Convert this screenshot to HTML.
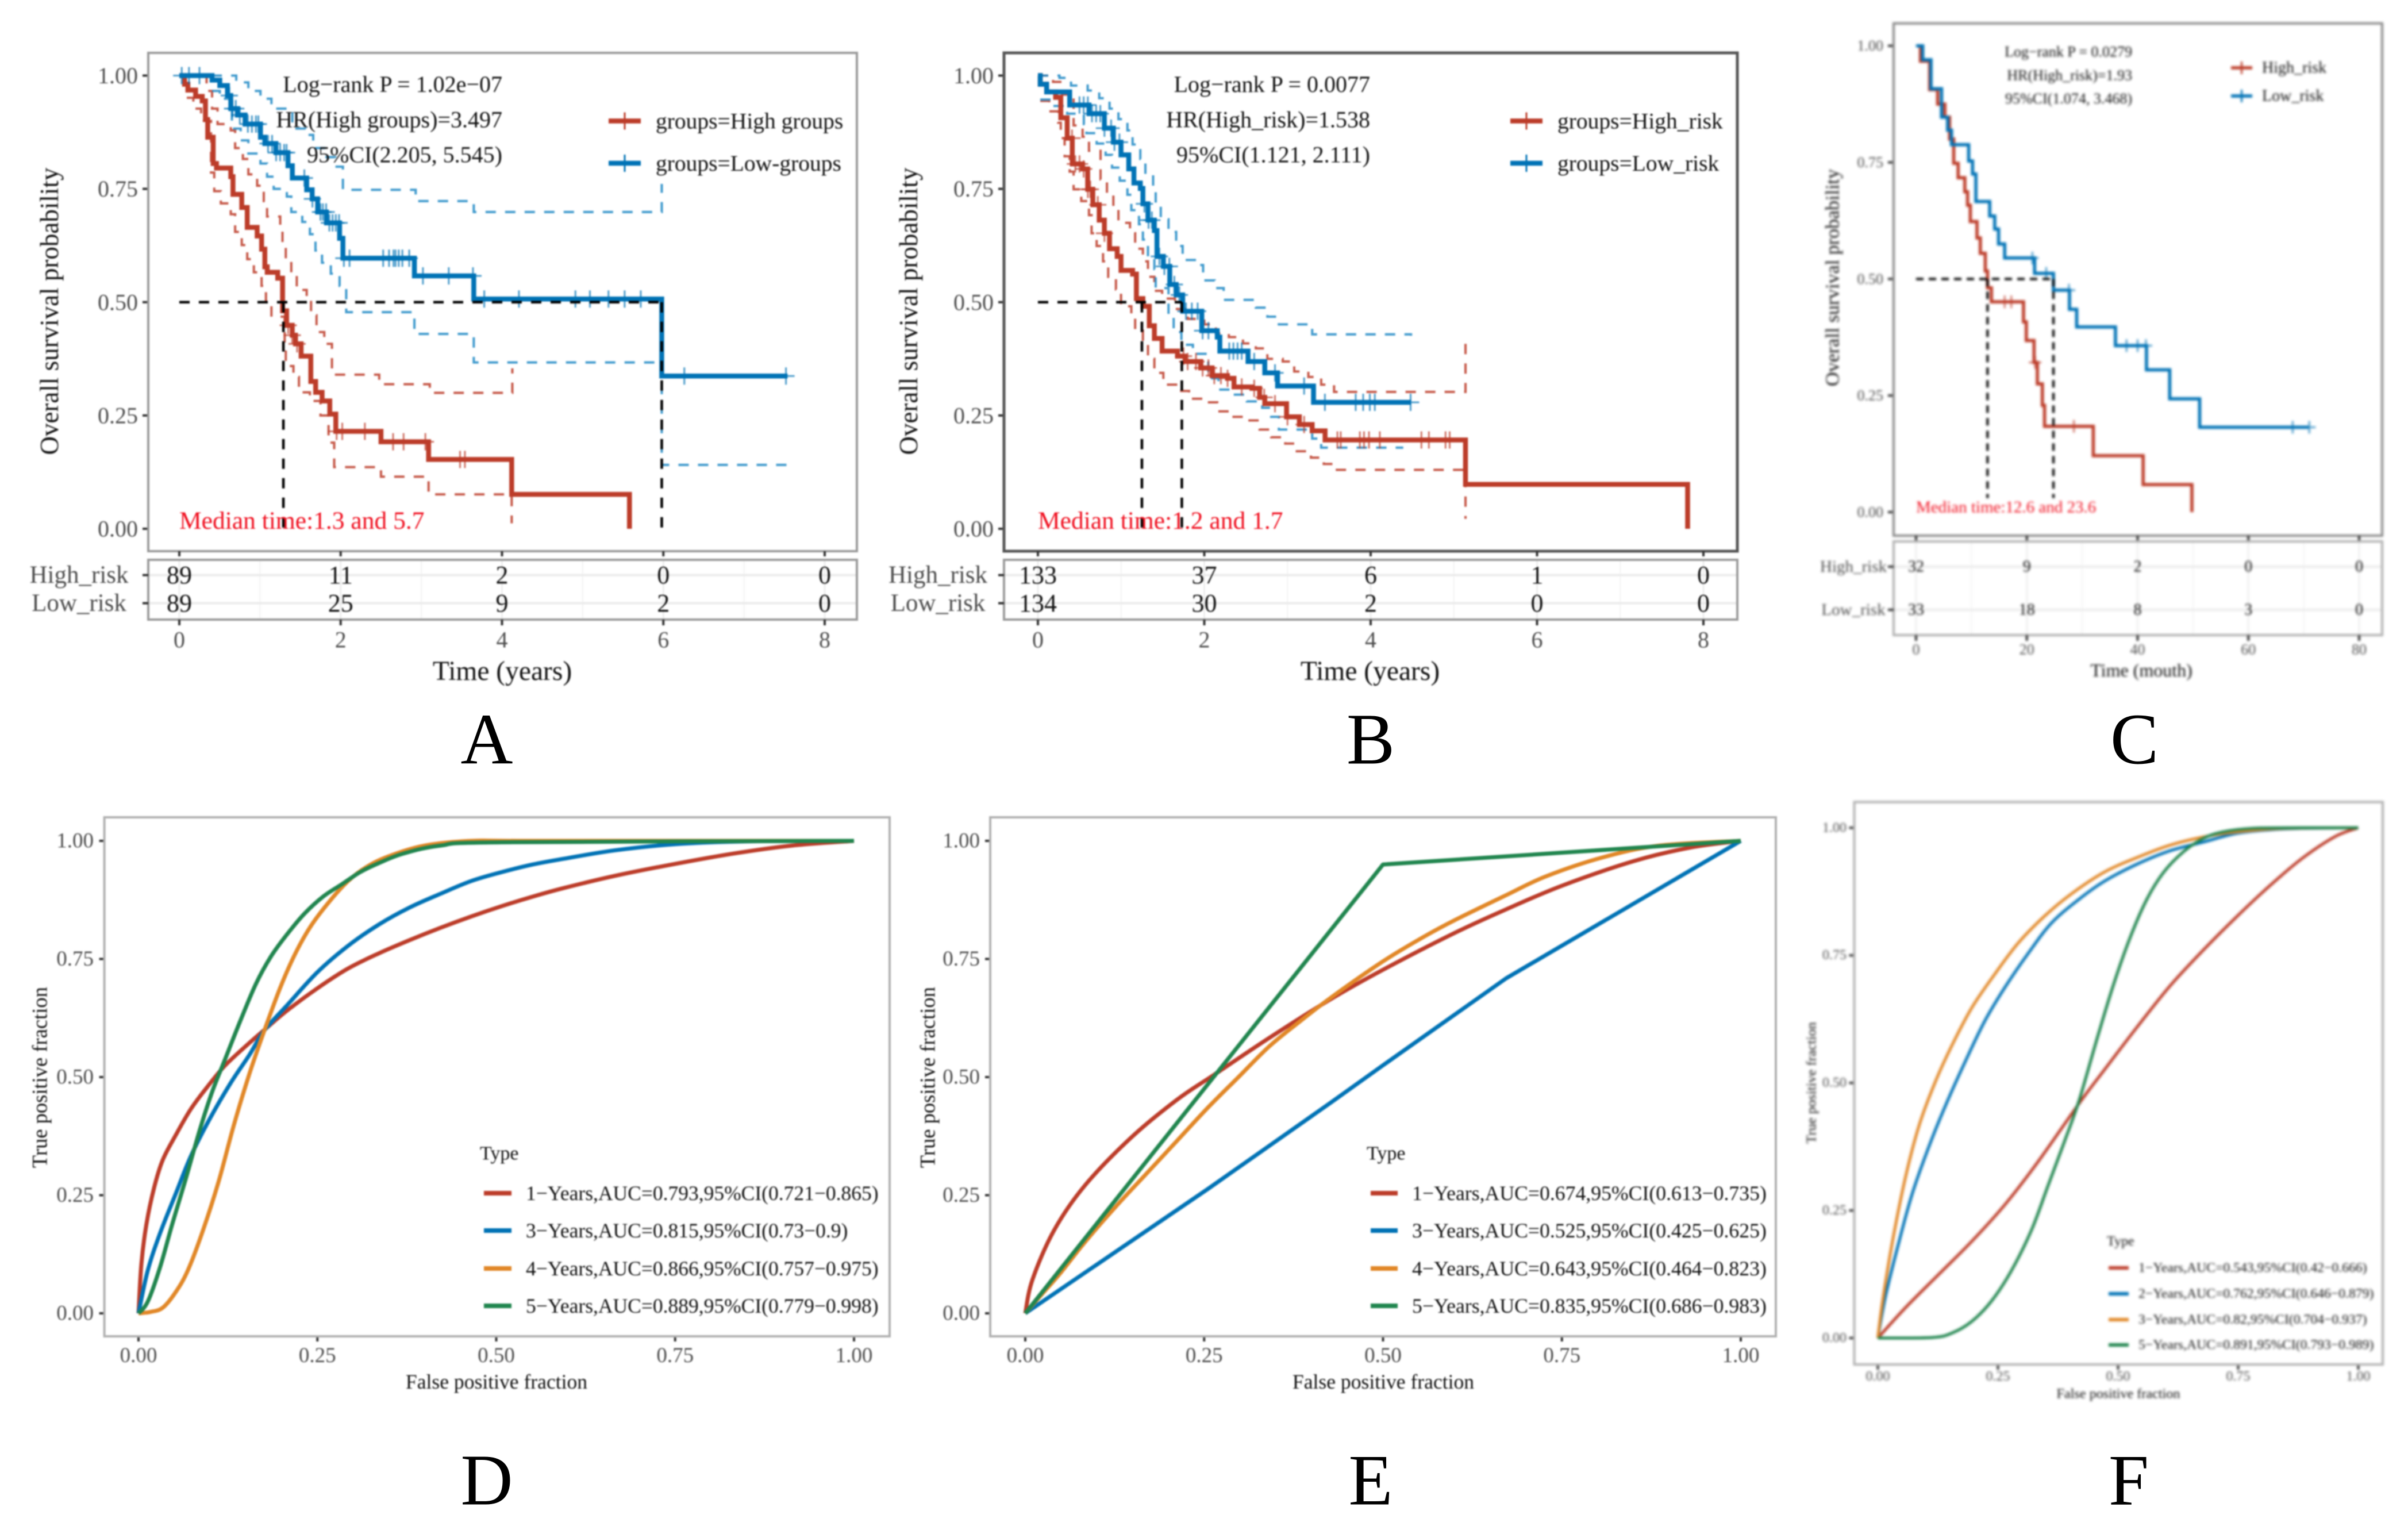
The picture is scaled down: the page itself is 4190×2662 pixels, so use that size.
<!DOCTYPE html>
<html lang="en">
<head>
<meta charset="utf-8">
<title>Survival and ROC analysis panels</title>
<style>
html,body{margin:0;padding:0;background:#fff;}
svg{display:block;font-family:"Liberation Serif",serif;}
text{dominant-baseline:central;}
</style>
</head>
<body>
<svg id="figure" xmlns="http://www.w3.org/2000/svg" width="4190" height="2662" viewBox="0 0 4190 2662"></svg>
<script>
/* ---------- shared tick labels ---------- */
const survivalTicks = [0, 0.25, 0.5, 0.75, 1];
const survivalTickLabels = ["0.00", "0.25", "0.50", "0.75", "1.00"];
const rocTicks = [0, 0.25, 0.5, 0.75, 1];
const rocTickLabels = ["0.00", "0.25", "0.50", "0.75", "1.00"];
const yearTicks = [0, 2, 4, 6, 8];
const monthTicks = [0, 20, 40, 60, 80];

/* ---------- panel A ---------- */
const aHighTime = [0,.065,.106,.202,.284,.324,.352,.42,.461,.638,.665,.774,.842,.965,1.02,1.06,1.09,1.22,1.28,1.33,1.40,1.44,1.51,1.63,1.69,1.77,1.865,1.94,2.50,3.09,4.12,5.58];
const aHighSurv = [1,.981,.968,.954,.944,.903,.864,.806,.796,.777,.738,.709,.665,.646,.617,.578,.566,.553,.481,.449,.427,.408,.381,.325,.301,.282,.253,.215,.192,.153,.076,0];
const aHighUpperTime = [.065,.338,.406,.474,.638,.692,.788,.856,.965,1.047,1.088,1.251,1.279,1.32,1.388,1.456,1.579,1.633,1.701,1.797,1.892,2.478,3.105,4.128];
const aHighUpperSurv = [1,.966,.927,.893,.879,.84,.816,.782,.757,.723,.689,.67,.631,.592,.558,.527,.505,.471,.434,.408,.34,.319,.3,.354];
const aHighLowerTime = [.093,.174,.27,.393,.433,.515,.638,.692,.774,.842,.924,1.02,1.074,1.142,1.306,1.32,1.415,1.483,1.619,1.75,1.85,1.92,2.5,3.09,4.12];
const aHighLowerSurv = [.951,.927,.9,.786,.745,.718,.694,.655,.626,.595,.566,.536,.498,.468,.408,.359,.335,.301,.282,.25,.19,.136,.115,.076,.012];
const aLowTime = [0,.406,.502,.597,.638,.72,.815,1.006,1.06,1.197,1.347,1.401,1.579,1.647,1.715,1.824,1.987,2.028,2.914,3.65,5.98,7.54];
const aLowSurv = [1,.99,.978,.956,.927,.913,.893,.864,.850,.830,.801,.774,.748,.728,.699,.675,.641,.597,.558,.507,.337,.337];
const aLowUpperTime = [.40,.706,.856,1.006,1.142,1.401,1.565,1.66,1.797,1.933,2.028,2.93,3.65,5.98];
const aLowUpperSurv = [1,.985,.966,.949,.927,.883,.869,.84,.82,.799,.748,.723,.699,.761];
const aLowLowerTime = [.406,.502,.652,.761,.856,1.006,1.088,1.17,1.333,1.388,1.524,1.619,1.688,1.769,1.878,1.987,2.069,2.914,3.65,5.98,7.54];
const aLowLowerSurv = [.966,.949,.883,.857,.828,.806,.777,.75,.733,.699,.677,.65,.614,.587,.563,.536,.478,.43,.367,.141,.141];
const aHighCensor = [1.35,1.40,1.46,1.95,2.02,2.3,2.65,2.78,3.05,3.48,3.54];
const aLowCensor = [.03,.12,.25,.62,.66,.7,.75,.85,.9,.95,.98,1.1,1.15,1.2,1.25,1.3,1.33,1.55,1.65,1.75,1.78,1.82,1.86,1.9,1.94,1.98,2.04,2.11,2.527,2.6,2.655,2.68,2.72,2.765,2.85,3.02,3.34,3.64,3.78,4.21,4.91,5.09,5.32,5.52,5.72,6.26,7.52];
const aRiskHigh = ["89","11","2","0","0"];
const aRiskLow = ["89","25","9","2","0"];
const aMedians = [1.29, 5.98];

/* ---------- panel B ---------- */
const bHighTime = [0,.028,.105,.213,.275,.352,.413,.537,.598,.66,.737,.799,.861,.953,.999,1.138,1.184,1.262,1.339,1.40,1.493,1.678,1.77,1.956,2.094,2.279,2.357,2.573,2.665,2.727,2.943,2.989,3.143,3.297,3.452,5.14,7.81];
const bHighSurv = [1,.981,.964,.952,.907,.862,.805,.794,.749,.715,.681,.652,.618,.601,.57,.562,.508,.491,.448,.42,.392,.381,.369,.355,.338,.332,.313,.31,.29,.276,.276,.247,.23,.216,.196,.098,0];
const bHighUpperTime = [0,.182,.29,.429,.537,.614,.753,.83,.907,.968,1.107,1.169,1.262,1.323,1.40,1.493,1.647,1.801,2.0,2.14,2.295,2.465,2.619,2.758,2.943,3.081,3.251,3.405,3.56,5.14];
const bHighUpperSurv = [1,.986,.958,.89,.865,.834,.771,.737,.706,.675,.652,.618,.59,.556,.525,.508,.485,.463,.451,.431,.423,.409,.398,.375,.369,.347,.335,.318,.302,.418];
const bHighLowerTime = [.028,.136,.244,.275,.321,.382,.429,.521,.614,.645,.706,.783,.845,.938,.999,1.123,1.169,1.262,1.323,1.40,1.508,1.678,1.817,2.017,2.156,2.326,2.511,2.665,2.804,2.973,3.112,3.282,3.436,3.56,5.14];
const bHighLowerSurv = [.944,.921,.896,.862,.822,.788,.749,.723,.692,.652,.624,.59,.556,.528,.491,.471,.437,.406,.375,.344,.318,.304,.287,.279,.259,.247,.239,.219,.202,.188,.171,.157,.143,.13,.022];
const bLowTime = [0,.028,.105,.382,.614,.799,.907,.999,1.092,1.154,1.231,1.262,1.323,1.40,1.431,1.508,1.585,1.662,1.74,1.97,2.156,2.187,2.526,2.727,2.881,3.313,4.485];
const bLowSurv = [1,.981,.964,.935,.916,.884,.853,.825,.794,.763,.751,.717,.681,.658,.601,.579,.539,.516,.48,.437,.423,.392,.369,.344,.315,.279,.279];
const bLowUpperTime = [0,.259,.398,.598,.737,.861,.968,1.076,1.138,1.231,1.292,1.385,1.416,1.477,1.57,1.662,1.74,1.909,1.986,2.125,2.233,2.619,2.758,2.896,3.297,4.485];
const bLowUpperSurv = [1,.995,.978,.967,.95,.927,.904,.879,.848,.816,.783,.754,.715,.683,.655,.624,.593,.582,.548,.531,.505,.488,.468,.451,.429,.426];
const bLowLowerTime = [.028,.167,.352,.552,.583,.706,.814,.891,.984,1.076,1.123,1.215,1.262,1.323,1.40,1.416,1.57,1.632,1.725,1.863,2.048,2.171,2.341,2.511,2.696,2.804,2.896,3.297,3.405,4.392];
const bLowLowerSurv = [.947,.933,.916,.893,.873,.85,.825,.797,.768,.737,.703,.672,.638,.601,.573,.531,.468,.434,.406,.386,.332,.307,.296,.281,.267,.247,.219,.199,.179,.179];
const bHighCensor = [.41,.45,.5,.55,.6,.63,.72,.8,1.75,1.8,1.9,1.98,2.05,2.12,2.2,2.28,2.45,2.6,2.72,2.85,3.0,3.2,3.6,3.64,3.87,3.92,3.98,4.11,4.61,4.7,4.9,4.95];
const bLowCensor = [.5,.55,.6,.65,.7,.75,.8,.88,.92,.98,1.28,1.33,1.37,1.46,1.52,1.58,1.64,1.7,1.78,1.85,1.92,1.98,2.05,2.3,2.35,2.4,2.45,2.6,2.85,3.2,3.45,3.82,3.91,3.99,4.05,4.48];
const bRiskHigh = ["133","37","6","1","0"];
const bRiskLow = ["134","30","2","0","0"];
const bMedians = [1.25, 1.73];

/* ---------- panel C ---------- */
const cHighTime = [0,.8,2.45,3.9,5.2,6.05,6.8,7.6,8.8,9.3,9.8,11,11.6,12.5,12.9,13.6,19.4,19.9,21.3,21.9,22.8,23.2,32,41,49.8];
const cHighSurv = [1,.967,.906,.875,.847,.80,.748,.717,.687,.658,.623,.588,.555,.517,.481,.451,.408,.368,.321,.275,.229,.184,.121,.059,0];
const cLowTime = [0,1.2,2.7,4.6,5.7,6.4,9.5,10.2,10.8,13.3,14.2,14.9,16,21.4,24.8,27.7,29,36,41.6,45.8,51.2,70.9];
const cLowSurv = [1,.97,.908,.847,.819,.788,.753,.725,.666,.635,.607,.575,.545,.512,.476,.435,.397,.357,.305,.243,.182,.182];
const cHighCensor = [16,17.2,21.5,28.5];
const cLowCensor = [21,23.5,27.6,38,40,41.5,68,71];
const cRiskHigh = ["32","9","2","0","0"];
const cRiskLow = ["33","18","8","3","0"];
const cMedians = [12.9, 24.8];

/* ---------- panel D ---------- */
const d1Fpr = [0,.004,.011,.022,.034,.052,.073,.095,.120,.151,.176,.207,.250,.293,.336,.379,.422,.465,.508,.551,.594,.666,.749,.831,.913,1];
const d1Tpr = [0,.104,.188,.267,.325,.377,.432,.477,.523,.567,.600,.640,.688,.730,.762,.790,.816,.840,.862,.882,.900,.926,.951,.973,.990,1];
const d3Fpr = [0,.013,.030,.052,.073,.099,.129,.155,.176,.207,.250,.293,.336,.379,.422,.465,.508,.551,.594,.666,.75,.85,1];
const d3Tpr = [0,.091,.169,.253,.332,.410,.488,.547,.599,.651,.722,.778,.823,.859,.888,.915,.934,.950,.962,.980,.993,.999,1];
const d4Fpr = [0,.017,.034,.052,.069,.090,.112,.133,.155,.176,.198,.219,.241,.267,.293,.318,.349,.400,.465,.55,1];
const d4Tpr = [0,.003,.012,.045,.091,.175,.279,.397,.507,.599,.689,.761,.820,.872,.915,.944,.967,.990,1,1,1];
const d5Fpr = [0,.013,.030,.047,.065,.086,.103,.120,.142,.164,.185,.207,.232,.258,.284,.310,.336,.370,.422,.508,1];
const d5Tpr = [0,.025,.097,.188,.279,.390,.469,.534,.618,.697,.755,.801,.846,.882,.908,.934,.953,.973,.990,.997,1];

/* ---------- panel E ---------- */
const e1Fpr = [0,.01,.04,.083,.148,.212,.264,.341,.427,.501,.6,.672,.75,.85,.93,1];
const e1Tpr = [0,.071,.175,.27,.372,.452,.505,.583,.665,.728,.805,.855,.905,.957,.986,1];
const e3Fpr = [0,.255,.427,.5,.672,1];
const e3Tpr = [0,.263,.446,.525,.709,1];
const e4Fpr = [0,.023,.049,.083,.126,.169,.212,.255,.298,.341,.384,.427,.5,.557,.6,.672,.728,.807,.886,1];
const e4Tpr = [0,.040,.085,.150,.225,.295,.365,.435,.50,.565,.618,.668,.745,.797,.832,.885,.925,.965,.990,1];
const e5Fpr = [0,.5,1];
const e5Tpr = [0,.95,1];

/* ---------- panel F ---------- */
const f1Fpr = [0,.058,.127,.196,.265,.333,.419,.471,.540,.608,.677,.746,.814,.883,.952,1];
const f1Tpr = [0,.06,.125,.19,.262,.345,.46,.525,.61,.69,.76,.825,.885,.94,.983,1];
const f2Fpr = [0,.017,.045,.072,.107,.141,.182,.223,.265,.313,.361,.416,.471,.540,.608,.677,.746,.814,.883,1];
const f2Tpr = [0,.086,.192,.284,.377,.456,.542,.622,.688,.754,.813,.858,.895,.929,.955,.972,.989,.996,.999,1];
const f3Fpr = [0,.01,.031,.058,.086,.12,.155,.196,.244,.292,.347,.402,.471,.540,.608,.677,.746,.849,1];
const f3Tpr = [0,.073,.192,.317,.417,.503,.575,.648,.714,.774,.827,.870,.913,.942,.966,.982,.992,.999,1];
const f5Fpr = [0,.113,.155,.196,.237,.278,.32,.354,.388,.419,.457,.491,.526,.56,.595,.636,.677,.718,.78,.883,1];
const f5Tpr = [0,.001,.01,.033,.073,.132,.212,.298,.384,.466,.589,.694,.787,.86,.913,.953,.979,.992,.999,1,1];

/* ---------- palette ---------- */
const RED = "#BC3C29", BLUE = "#0072B5", ORANGE = "#E18727", GREEN = "#20854E", TICK = "#4d4d4d";
const NS = "http://www.w3.org/2000/svg";
const root = document.getElementById("figure");

function mk(tag, parent, name, attrs, txt) {
  const e = document.createElementNS(NS, tag);
  
  
  for (const k in attrs) e.setAttribute(k, attrs[k]);
  if (txt !== undefined) e.textContent = txt;
  parent.appendChild(e);
  return e;
}
function label(parent, name, x, y, size, str, opts) {
  const o = opts || {};
  const a = {x: x, y: y, "font-size": size, fill: o.fill || "#000", "text-anchor": o.anchor || "start"};
  if (o.rot) a.transform = "rotate(-90 " + x + " " + y + ")";
  return mk("text", parent, name, a, str);
}
function line(parent, name, x1, y1, x2, y2, stroke, w, extra) {
  return mk("line", parent, name, Object.assign({x1: x1, y1: y1, x2: x2, y2: y2, stroke: stroke, "stroke-width": w}, extra || {}));
}
function scale(d0, d1, p0, p1) { return v => p0 + (v - d0) / (d1 - d0) * (p1 - p0); }
function stepPath(times, surv, X, Y) {
  let d = "M" + X(times[0]) + " " + Y(surv[0]);
  for (let i = 1; i < times.length; i++) d += "H" + X(times[i]) + "V" + Y(surv[i]);
  return d;
}
function stepAt(times, surv, t) {
  let s = surv[0];
  for (let i = 0; i < times.length; i++) if (times[i] <= t) s = surv[i];
  return s;
}

function survivalPanel(c) {
  const g = mk("g", root, "panel-" + c.id, {style: "filter:blur(" + c.blur + "px)"});
  const X = scale(c.xTicks[0], c.xTicks[c.xTicks.length - 1], c.x0, c.x1);
  const Y = scale(0, 1, c.y0, c.y1);
  const f = c.fonts;
  mk("rect", g, "plot-background", {x: c.left, y: c.top, width: c.right - c.left, height: c.bottom - c.top, fill: "#fff"});

  survivalTicks.forEach((v, i) => {
    line(g, "y-tick", c.left - 10, Y(v), c.left, Y(v), "#333", 4);
    label(g, "y-tick-label", c.left - 18, Y(v), f.tick, survivalTickLabels[i], {anchor: "end", fill: TICK});
  });
  label(g, "y-axis-title", c.yTitleX, c.yTitleY, f.title, "Overall survival probability", {anchor: "middle", rot: true, fill: "#111"});

  c.bands.forEach(b => {
    mk("path", g, b.name, {d: stepPath(b.t, b.s, X, Y), fill: "none", stroke: b.color, "stroke-width": c.ciW, "stroke-dasharray": "18 16", opacity: 0.85});
  });

  c.curves.forEach(k => {
    mk("path", g, k.name + "-curve", {d: stepPath(k.t, k.s, X, Y), fill: "none", stroke: k.color, "stroke-width": c.lineW});
    k.censor.forEach(t => {
      const y = Y(stepAt(k.t, k.s, t));
      const x = X(t);
      mk("path", g, k.name + "-censor-mark", {d: "M" + x + " " + (y - c.tickH) + "V" + (y + c.tickH) + "M" + (x - c.tickH) + " " + y + "H" + (x + c.tickH), fill: "none", stroke: k.color, "stroke-width": 3, opacity: 0.7});
    });
  });

  const endX = c.medians[c.medians.length - 1];
  line(g, "median-horizontal", X(0), Y(0.5), X(endX), Y(0.5), "#000", c.medW, {"stroke-dasharray": c.medDash});
  c.medians.forEach(m => {
    line(g, "median-vertical", X(m), Y(0.5), X(m), Y(c.medEnd), "#000", c.medW, {"stroke-dasharray": c.medDash});
  });

  c.notes.forEach((n, i) => label(g, "statistics-text", c.noteX, c.noteY[i], f.note, n, {anchor: "end", fill: "#111"}));
  label(g, "median-time-text", X(0), c.medTextY, f.median, c.medText, {fill: "#f01020"});

  c.legend.forEach((l, i) => {
    line(g, "legend-key-line", c.legX0, c.legY[i], c.legX1, c.legY[i], l.color, c.lineW);
    line(g, "legend-key-tick", (c.legX0 + c.legX1) / 2, c.legY[i] - c.tickH, (c.legX0 + c.legX1) / 2, c.legY[i] + c.tickH, l.color, 3);
    label(g, "legend-entry", c.legTextX, c.legY[i], f.legend, l.text, {fill: "#111"});
  });

  mk("rect", g, "plot-border", {x: c.left, y: c.top, width: c.right - c.left, height: c.bottom - c.top, fill: "none", stroke: c.frame, "stroke-width": c.frameW});
  c.xTicks.forEach(v => line(g, "plot-x-tick", X(v), c.bottom, X(v), c.bottom + 9, "#333", 4));

  c.xTicks.forEach((v, i) => {
    line(g, "risk-table-gridline", X(v), c.tTop, X(v), c.tBottom, "#eeeeee", 3);
    if (i) line(g, "risk-table-minor-gridline", (X(v) + X(c.xTicks[i - 1])) / 2, c.tTop, (X(v) + X(c.xTicks[i - 1])) / 2, c.tBottom, "#f3f3f3", 2);
  });
  line(g, "risk-table-row-line", c.left, c.rowY[0], c.right, c.rowY[0], "#ebebeb", 4);
  line(g, "risk-table-row-line", c.left, c.rowY[1], c.right, c.rowY[1], "#ebebeb", 4);
  mk("rect", g, "risk-table-border", {x: c.left, y: c.tTop, width: c.right - c.left, height: c.tBottom - c.tTop, fill: "none", stroke: c.tFrame, "stroke-width": 4});
  ["High_risk", "Low_risk"].forEach((r, i) => {
    line(g, "risk-row-tick", c.left - 10, c.rowY[i], c.left, c.rowY[i], "#333", 4);
    label(g, "risk-row-label", c.rowLabelX, c.rowY[i], f.row, r, {anchor: "middle", fill: TICK});
  });
  c.xTicks.forEach((v, i) => {
    label(g, "at-risk-high-count", X(v), c.rowY[0], f.risk, c.riskHigh[i], {anchor: "middle", fill: "#111"});
    label(g, "at-risk-low-count", X(v), c.rowY[1], f.risk, c.riskLow[i], {anchor: "middle", fill: "#111"});
    line(g, "x-tick", X(v), c.tBottom, X(v), c.tBottom + 10, "#333", 4);
    label(g, "x-tick-label", X(v), c.xTickY, f.tick, String(v), {anchor: "middle", fill: TICK});
  });
  label(g, "x-axis-title", c.xTitleX, c.xTitleY, f.xTitle, c.xTitle, {anchor: "middle", fill: "#111"});
}

function curvePath(xs, ys, X, Y, straight) {
  const p = xs.map((v, i) => [X(v), Y(ys[i])]);
  let d = "M" + p[0][0] + " " + p[0][1];
  for (let i = 1; i < p.length; i++) {
    if (straight) { d += "L" + p[i][0] + " " + p[i][1]; continue; }
    const a = p[Math.max(0, i - 2)], b = p[i - 1], e = p[i], h = p[Math.min(p.length - 1, i + 1)];
    d += "C" + (b[0] + (e[0] - a[0]) / 6) + " " + (b[1] + (e[1] - a[1]) / 6) + " " +
         (e[0] - (h[0] - b[0]) / 6) + " " + (e[1] - (h[1] - b[1]) / 6) + " " + e[0] + " " + e[1];
  }
  return d;
}

function rocPanel(c) {
  const g = mk("g", root, "panel-" + c.id, {style: "filter:blur(" + c.blur + "px)"});
  const X = scale(0, 1, c.x0, c.x1);
  const Y = scale(0, 1, c.y0, c.y1);
  rocTicks.forEach((v, i) => {
    line(g, "y-tick", c.left - 9, Y(v), c.left, Y(v), "#333", 4);
    label(g, "y-tick-label", c.yTickX, Y(v), c.tickSize, rocTickLabels[i], {anchor: "end", fill: TICK});
    line(g, "x-tick", X(v), c.bottom, X(v), c.bottom + 9, "#333", 4);
    label(g, "x-tick-label", X(v), c.xTickY, c.tickSize, rocTickLabels[i], {anchor: "middle", fill: TICK});
  });
  c.curves.forEach(k => {
    mk("path", g, k.name, {d: curvePath(k.x, k.y, X, Y, k.straight), fill: "none", stroke: k.color, "stroke-width": c.lineW, "stroke-linejoin": "round"});
  });
  mk("rect", g, "plot-border", {x: c.left, y: c.top, width: c.right - c.left, height: c.bottom - c.top, fill: "none", stroke: "#b0b0b0", "stroke-width": 4});
  label(g, "x-axis-title", c.xTitleX, c.xTitleY, c.xTitleSize, "False positive fraction", {anchor: "middle", fill: "#111"});
  label(g, "y-axis-title", c.yTitleX, c.yTitleY, c.yTitleSize, "True positive fraction", {anchor: "middle", rot: true, fill: "#111"});
  label(g, "legend-title", c.legTitleX, c.legTitleY, c.legTitleSize, "Type", {fill: "#111"});
  c.curves.forEach((k, i) => {
    line(g, "legend-key", c.keyX0, c.legY[i], c.keyX1, c.legY[i], k.color, c.lineW + 1);
    label(g, "legend-entry", c.legTextX, c.legY[i], c.legSize, k.text, {fill: "#111"});
  });
}

survivalPanel({
  id: "a", blur: 1.2, xTicks: yearTicks, x0: 312, x1: 1435, y0: 920, y1: 131.5,
  left: 258, right: 1491, top: 92, bottom: 959, tTop: 974, tBottom: 1078, rowY: [1000.6, 1049.5],
  frame: "#9a9a9a", frameW: 4, tFrame: "#9a9a9a", lineW: 8.5, ciW: 4, medW: 4.5, medDash: "18 16", tickH: 15, medEnd: 0,
  fonts: {tick: 40, title: 45, note: 40, median: 43.5, legend: 39.5, row: 43, risk: 44, xTitle: 47.5},
  yTitleX: 86, yTitleY: 541.6, rowLabelX: 137.5, xTickY: 1113, xTitleX: 874, xTitleY: 1168, xTitle: "Time (years)",
  noteX: 874, noteY: [146.5, 208, 269], medTextY: 906, medText: "Median time:1.3 and 5.7",
  notes: ["Log\u2212rank P = 1.02e\u221207", "HR(High groups)=3.497", "95%CI(2.205, 5.545)"],
  legX0: 1059, legX1: 1115, legY: [210.5, 284], legTextX: 1141,
  legend: [{color: RED, text: "groups=High groups"}, {color: BLUE, text: "groups=Low-groups"}],
  medians: aMedians, riskHigh: aRiskHigh, riskLow: aRiskLow,
  bands: [
    {name: "high-risk-upper-ci", color: RED, t: aHighUpperTime, s: aHighUpperSurv},
    {name: "high-risk-lower-ci", color: RED, t: aHighLowerTime, s: aHighLowerSurv},
    {name: "low-risk-upper-ci", color: "#1f88c4", t: aLowUpperTime, s: aLowUpperSurv},
    {name: "low-risk-lower-ci", color: "#1f88c4", t: aLowLowerTime, s: aLowLowerSurv}
  ],
  curves: [
    {name: "high-risk", color: RED, t: aHighTime, s: aHighSurv, censor: aHighCensor},
    {name: "low-risk", color: BLUE, t: aLowTime, s: aLowSurv, censor: aLowCensor}
  ]
});

survivalPanel({
  id: "b", blur: 1.2, xTicks: yearTicks, x0: 1806, x1: 2964, y0: 920, y1: 131.5,
  left: 1747, right: 3023, top: 92, bottom: 959, tTop: 974, tBottom: 1078, rowY: [1000.6, 1049.5],
  frame: "#555555", frameW: 5, tFrame: "#9a9a9a", lineW: 8.5, ciW: 4, medW: 4.5, medDash: "18 16", tickH: 15, medEnd: 0,
  fonts: {tick: 40, title: 45, note: 40, median: 43.5, legend: 39.5, row: 43, risk: 44, xTitle: 47.5},
  yTitleX: 1581, yTitleY: 541.6, rowLabelX: 1632, xTickY: 1113, xTitleX: 2384, xTitleY: 1168, xTitle: "Time (years)",
  noteX: 2384, noteY: [146.5, 208, 269], medTextY: 906, medText: "Median time:1.2 and 1.7",
  notes: ["Log\u2212rank P = 0.0077", "HR(High_risk)=1.538", "95%CI(1.121, 2.111)"],
  legX0: 2628, legX1: 2684, legY: [210.5, 284], legTextX: 2710,
  legend: [{color: RED, text: "groups=High_risk"}, {color: BLUE, text: "groups=Low_risk"}],
  medians: bMedians, riskHigh: bRiskHigh, riskLow: bRiskLow,
  bands: [
    {name: "high-risk-upper-ci", color: RED, t: bHighUpperTime, s: bHighUpperSurv},
    {name: "high-risk-lower-ci", color: RED, t: bHighLowerTime, s: bHighLowerSurv},
    {name: "low-risk-upper-ci", color: "#1f88c4", t: bLowUpperTime, s: bLowUpperSurv},
    {name: "low-risk-lower-ci", color: "#1f88c4", t: bLowLowerTime, s: bLowLowerSurv}
  ],
  curves: [
    {name: "high-risk", color: RED, t: bHighTime, s: bHighSurv, censor: bHighCensor},
    {name: "low-risk", color: BLUE, t: bLowTime, s: bLowSurv, censor: bLowCensor}
  ]
});

survivalPanel({
  id: "c", blur: 2.2, xTicks: monthTicks, x0: 3334, x1: 4105, y0: 891, y1: 79.7,
  left: 3295, right: 4145, top: 40.7, bottom: 932, tTop: 942, tBottom: 1105, rowY: [986, 1061],
  frame: "#8a8a8a", frameW: 4, tFrame: "#b0b0b0", lineW: 5.5, ciW: 3, medW: 4, medDash: "13 9", tickH: 11, medEnd: 0.03,
  fonts: {tick: 26, title: 34, note: 26, median: 29, legend: 28, row: 29, risk: 28, xTitle: 32},
  yTitleX: 3189, yTitleY: 483, rowLabelX: 3225, xTickY: 1130, xTitleX: 3726, xTitleY: 1166, xTitle: "Time (mouth)",
  noteX: 3710, noteY: [90, 131, 171.5], medTextY: 882.5, medText: "Median time:12.6 and 23.6",
  notes: ["Log\u2212rank P = 0.0279", "HR(High_risk)=1.93", "95%CI(1.074, 3.468)"],
  legX0: 3882, legX1: 3919, legY: [118, 167], legTextX: 3936,
  legend: [{color: RED, text: "High_risk"}, {color: BLUE, text: "Low_risk"}],
  medians: cMedians, riskHigh: cRiskHigh, riskLow: cRiskLow,
  bands: [],
  curves: [
    {name: "high-risk", color: RED, t: cHighTime, s: cHighSurv, censor: cHighCensor},
    {name: "low-risk", color: BLUE, t: cLowTime, s: cLowSurv, censor: cLowCensor}
  ]
});

rocPanel({
  id: "d", blur: 1.2, x0: 241, x1: 1486, y0: 2285, y1: 1463, left: 181.6, right: 1548, top: 1422, bottom: 2325, lineW: 7,
  tickSize: 37, yTickX: 163, xTickY: 2358.6, xTitleX: 864, xTitleY: 2404, xTitleSize: 35.6, yTitleX: 69, yTitleY: 1874.6, yTitleSize: 36.5,
  legTitleX: 835, legTitleY: 2007, legTitleSize: 34, keyX0: 842, keyX1: 890, legTextX: 915, legSize: 35.5, legY: [2076, 2141, 2207, 2272],
  curves: [
    {name: "roc-1-year", color: RED, x: d1Fpr, y: d1Tpr, text: "1\u2212Years,AUC=0.793,95%CI(0.721\u22120.865)"},
    {name: "roc-3-year", color: BLUE, x: d3Fpr, y: d3Tpr, text: "3\u2212Years,AUC=0.815,95%CI(0.73\u22120.9)"},
    {name: "roc-4-year", color: ORANGE, x: d4Fpr, y: d4Tpr, text: "4\u2212Years,AUC=0.866,95%CI(0.757\u22120.975)"},
    {name: "roc-5-year", color: GREEN, x: d5Fpr, y: d5Tpr, text: "5\u2212Years,AUC=0.889,95%CI(0.779\u22120.998)"}
  ]
});

rocPanel({
  id: "e", blur: 1.2, x0: 1784, x1: 3029, y0: 2285, y1: 1463, left: 1723, right: 3090, top: 1422, bottom: 2325, lineW: 7,
  tickSize: 37, yTickX: 1705, xTickY: 2358.6, xTitleX: 2407, xTitleY: 2404, xTitleSize: 35.6, yTitleX: 1614, yTitleY: 1874.6, yTitleSize: 36.5,
  legTitleX: 2378, legTitleY: 2007, legTitleSize: 34, keyX0: 2385, keyX1: 2432, legTextX: 2457, legSize: 35.7, legY: [2076, 2141, 2207, 2272],
  curves: [
    {name: "roc-1-year", color: RED, x: e1Fpr, y: e1Tpr, text: "1\u2212Years,AUC=0.674,95%CI(0.613\u22120.735)"},
    {name: "roc-3-year", color: BLUE, x: e3Fpr, y: e3Tpr, straight: true, text: "3\u2212Years,AUC=0.525,95%CI(0.425\u22120.625)"},
    {name: "roc-4-year", color: ORANGE, x: e4Fpr, y: e4Tpr, text: "4\u2212Years,AUC=0.643,95%CI(0.464\u22120.823)"},
    {name: "roc-5-year", color: GREEN, x: e5Fpr, y: e5Tpr, straight: true, text: "5\u2212Years,AUC=0.835,95%CI(0.686\u22120.983)"}
  ]
});

rocPanel({
  id: "f", blur: 2.2, x0: 3267.5, x1: 4103.5, y0: 2328, y1: 1440.3, left: 3226.5, right: 4146, top: 1395.4, bottom: 2374, lineW: 5,
  tickSize: 24, yTickX: 3213, xTickY: 2395, xTitleX: 3686, xTitleY: 2425, xTitleSize: 24.2, yTitleX: 3152, yTitleY: 1884, yTitleSize: 24.5,
  legTitleX: 3666, legTitleY: 2160, legTitleSize: 24, keyX0: 3669, keyX1: 3704, legTextX: 3721, legSize: 23.7, legY: [2206, 2251, 2296, 2340],
  curves: [
    {name: "roc-1-year", color: RED, x: f1Fpr, y: f1Tpr, text: "1\u2212Years,AUC=0.543,95%CI(0.42\u22120.666)"},
    {name: "roc-2-year", color: BLUE, x: f2Fpr, y: f2Tpr, text: "2\u2212Years,AUC=0.762,95%CI(0.646\u22120.879)"},
    {name: "roc-3-year", color: ORANGE, x: f3Fpr, y: f3Tpr, text: "3\u2212Years,AUC=0.82,95%CI(0.704\u22120.937)"},
    {name: "roc-5-year", color: GREEN, x: f5Fpr, y: f5Tpr, text: "5\u2212Years,AUC=0.891,95%CI(0.793\u22120.989)"}
  ]
});

/* panel letters */
const panelLetters = ["A", "B", "C", "D", "E", "F"];
const letterCol = [847, 2385, 3714, 847, 2385, 3704];
const letterRow = [1287, 1287, 1287, 2576, 2576, 2576];
panelLetters.forEach((ch, i) => {
  label(root, "panel-letter-" + ch.toLowerCase(), letterCol[i], letterRow[i], 126, ch, {anchor: "middle"});
});
</script>
</body>
</html>
